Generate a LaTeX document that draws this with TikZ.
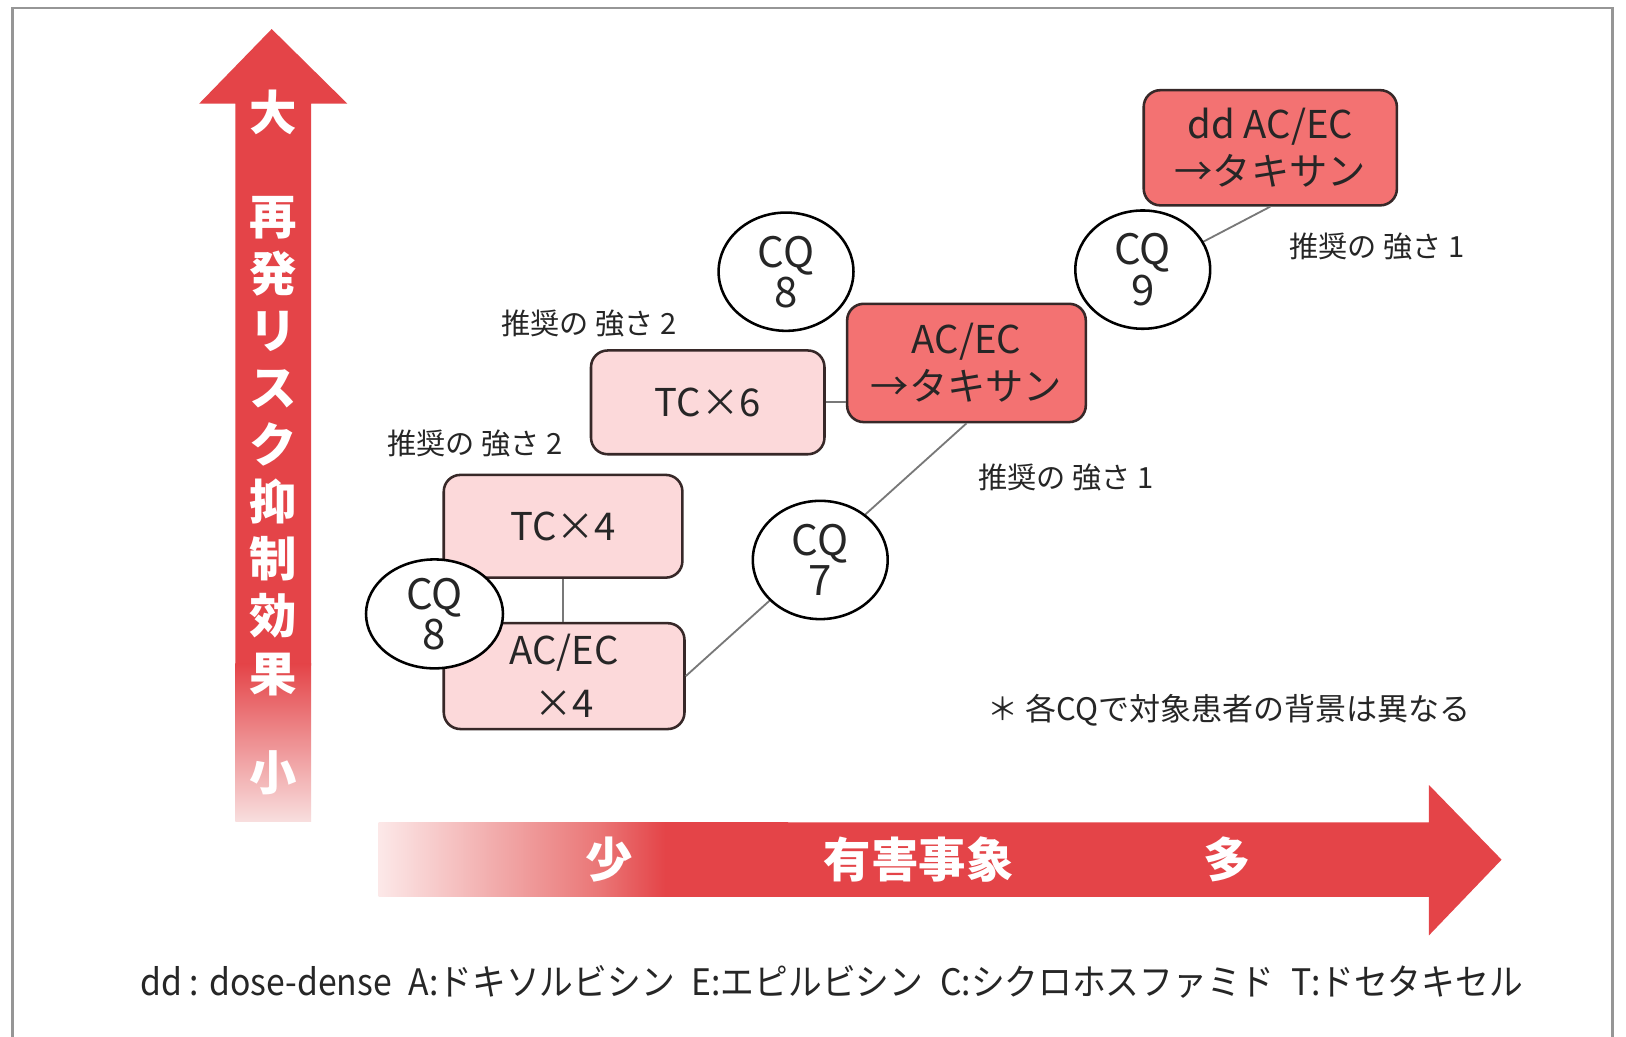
\documentclass[tikz,border=0pt]{standalone}
\usepackage{fontspec}
\setmainfont{Noto Sans CJK JP}
\usetikzlibrary{shapes.geometric}
\definecolor{arrred}{RGB}{228,68,72}
\definecolor{fadered}{RGB}{252,232,232}
\definecolor{hmidone}{RGB}{241,168,168}
\definecolor{hmidtwo}{RGB}{234,118,118}
\definecolor{fadebot}{RGB}{248,222,222}
\definecolor{lightbox}{RGB}{252,217,218}
\definecolor{strongbox}{RGB}{243,114,114}
\definecolor{boxline}{RGB}{55,40,40}
\definecolor{linkgrey}{RGB}{120,120,120}
\definecolor{framegrey}{RGB}{150,150,150}
\pgfdeclarehorizontalshading{hfade}{100bp}{color(0bp)=(fadered); color(25bp)=(fadered); color(40bp)=(hmidone); color(52bp)=(hmidtwo); color(60bp)=(arrred); color(100bp)=(arrred)}
\begin{document}
\begin{tikzpicture}[x=0.01cm,y=-0.01cm,
  lbox/.style={draw=boxline, line width=0.7pt, rounded corners=0.16cm, fill=lightbox,
    align=center, inner sep=0pt, font=\fontsize{10.5}{13}\selectfont, text=black!85},
  sbox/.style={lbox, fill=strongbox},
  cq/.style={ellipse, draw=black, line width=0.7pt, fill=white, inner sep=0pt,
    minimum width=1.3cm, minimum height=1.14cm, align=center,
    font=\fontsize{11.5}{12}\selectfont, text=black!85},
  link/.style={draw=linkgrey, line width=0.5pt},
  rec/.style={font=\fontsize{8}{9}\selectfont, text=black!85, inner sep=0pt},
  arrtxt/.style={text=white, inner sep=0pt, font=\fontsize{13}{15.65}\selectfont\bfseries, align=center}]
\useasboundingbox (0,0) rectangle (1568,1000);
\fill[white] (0,0) rectangle (1568,1000);
\draw[framegrey, line width=0.6pt] (12,8) rectangle (1555,1030);

% vertical arrow
\fill[arrred] (192,100) -- (262,28) -- (335,100) -- (300,100) -- (300,642) -- (227,642) -- (227,100) -- cycle;
\shade[top color=arrred, bottom color=fadebot] (227,640) rectangle (300,792);
\node[arrtxt] (vbig) at (263,108) {大};
\node[arrtxt] (vmain) at (263,430) {再\\発\\リ\\ス\\ク\\抑\\制\\効\\果};
\node[arrtxt] (vsmall) at (263,745) {小};

% horizontal arrow
\shade[shading=hfade] (365,793) rectangle (760,865);
\fill[arrred] (700,793) -- (1378,793) -- (1378,757) -- (1448,829) -- (1378,902) -- (1378,865) -- (700,865) -- cycle;
\node[arrtxt] (hsmall) at (587,829) {少};
\node[arrtxt] (hmain) at (886,829) {有害事象};
\node[arrtxt] (hbig) at (1183,829) {多};

% boxes
\node[lbox, minimum width=2.30cm, minimum height=0.99cm] (tc4) at (543,507.5) {TC×4};
\node[lbox, minimum width=2.32cm, minimum height=1.02cm] (ae4) at (544,652) {AC/EC\\[1.5pt]×4};
\node[lbox, minimum width=2.25cm, minimum height=1.00cm] (tc6) at (682.5,388) {TC×6};
\node[sbox, minimum width=2.30cm, minimum height=1.14cm] (aet) at (932,350) {AC/EC\\→タキサン};
\node[sbox, minimum width=2.44cm, minimum height=1.11cm] (dd) at (1225,142.5) {dd AC/EC\\→タキサン};

% connectors
\draw[link] (tc4.south) -- (tc4.south |- ae4.north);
\draw[link] (tc6.east) -- (tc6.east -| aet.west);
\draw[link] (ae4.east) -- (aet.south);
\draw[link] (dd.south) -- (aet.north east);

% CQ circles
\node[cq, minimum width=1.32cm, minimum height=1.05cm] (cq8a) at (419,592) {CQ\\[-1pt]8};
\node[cq] (cq8b) at (758,262) {CQ\\[-1pt]8};
\node[cq] (cq7) at (791,540) {CQ\\[-1pt]7};
\node[cq] (cq9) at (1102,260) {CQ\\[-1pt]9};

% recommendation labels
\node[rec] (r2a) at (568,312) {推奨の 強さ 2};
\node[rec] (r2b) at (458,428) {推奨の 強さ 2};
\node[rec] (r1a) at (1028,460) {推奨の 強さ 1};
\node[rec] (r1b) at (1328,238) {推奨の 強さ 1};
\node[rec, font=\fontsize{8.5}{10}\selectfont] (note) at (1185,685) {＊ 各CQで対象患者の背景は異なる};

% legend
\node[inner sep=0pt, text=black!85, font=\fontsize{10}{12}\selectfont] (legend) at (802,947)
  {\scalebox{0.925}[1]{dd : dose-dense\enspace A:ドキソルビシン\enspace E:エピルビシン\enspace C:シクロホスファミド\enspace T:ドセタキセル}};
\end{tikzpicture}
\end{document}
